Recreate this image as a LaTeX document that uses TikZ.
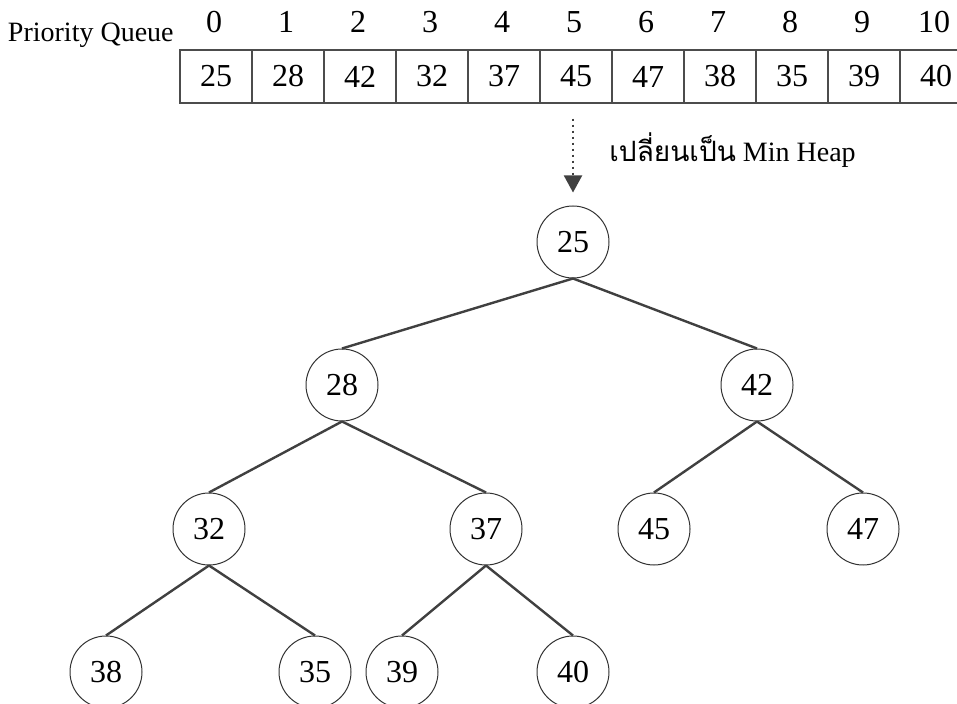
\documentclass[tikz,border=0pt]{standalone}
\usepackage{fontspec}
\setmainfont{Liberation Serif}
\newfontfamily\thaifont[Script=Thai]{Loma}
\usetikzlibrary{arrows.meta, positioning}

\begin{document}
\begin{tikzpicture}[
         x=0.5pt, y=-0.5pt,
         num/.style={font=\fontsize{16}{19}\selectfont},
         cell/.style={num, draw=black!70, line width=0.6pt, minimum width=36pt, minimum height=26.5pt, inner sep=0pt},
         heapnode/.style={num, circle, draw=black!80, line width=0.5pt, minimum size=36pt, inner sep=0pt},
         branch/.style={draw=black!75, line width=1.2pt},
         convert/.style={draw=black!75, line width=1pt, dotted, -{Triangle[width=9pt, length=8.5pt]}}
      ]
         \clip (0,0) rectangle (957,704);

         % Array of the priority queue with its indices
         \node[anchor=base east, inner sep=0pt, font=\fontsize{14}{17}\selectfont] (title) at (174,42) {Priority Queue};
         \foreach \v [count=\i from 0] in {25,28,42,32,37,45,47,38,35,39,40} {
            \node[cell] (c\i) at (216+72*\i,76.5) {\v};
            \node[num] (i\i) at (214+72*\i,22) {\i};
         }

         % Nodes of the heap
         \node[heapnode] (root) at (573,242) {25};
         \node[heapnode] (n28) at (342,385) {28};
         \node[heapnode] (n42) at (757,385) {42};
         \node[heapnode] (n32) at (209,529) {32};
         \node[heapnode] (n37) at (486,529) {37};
         \node[heapnode] (n45) at (654,529) {45};
         \node[heapnode] (n47) at (863,529) {47};
         \node[heapnode] (n38) at (106,672) {38};
         \node[heapnode] (n35) at (315,672) {35};
         \node[heapnode] (n39) at (402,672) {39};
         \node[heapnode] (n40) at (573,672) {40};

         % Conversion arrow with its label
         \draw[convert, shorten <=7.5pt, shorten >=6.5pt] (c5.south -| root) -- (root.north);
         \node[font=\fontsize{14}{17}\selectfont, inner sep=0pt, anchor=base west] (convlabel) at (609,162) {{\thaifont เปลี่ยนเป็น} Min Heap};

         % Branches from parent to child
         \draw[branch] (root.south) -- (n28.north);
         \draw[branch] (root.south) -- (n42.north);
         \draw[branch] (n28.south) -- (n32.north);
         \draw[branch] (n28.south) -- (n37.north);
         \draw[branch] (n42.south) -- (n45.north);
         \draw[branch] (n42.south) -- (n47.north);
         \draw[branch] (n32.south) -- (n38.north);
         \draw[branch] (n32.south) -- (n35.north);
         \draw[branch] (n37.south) -- (n39.north);
         \draw[branch] (n37.south) -- (n40.north);
\end{tikzpicture}
\end{document}
